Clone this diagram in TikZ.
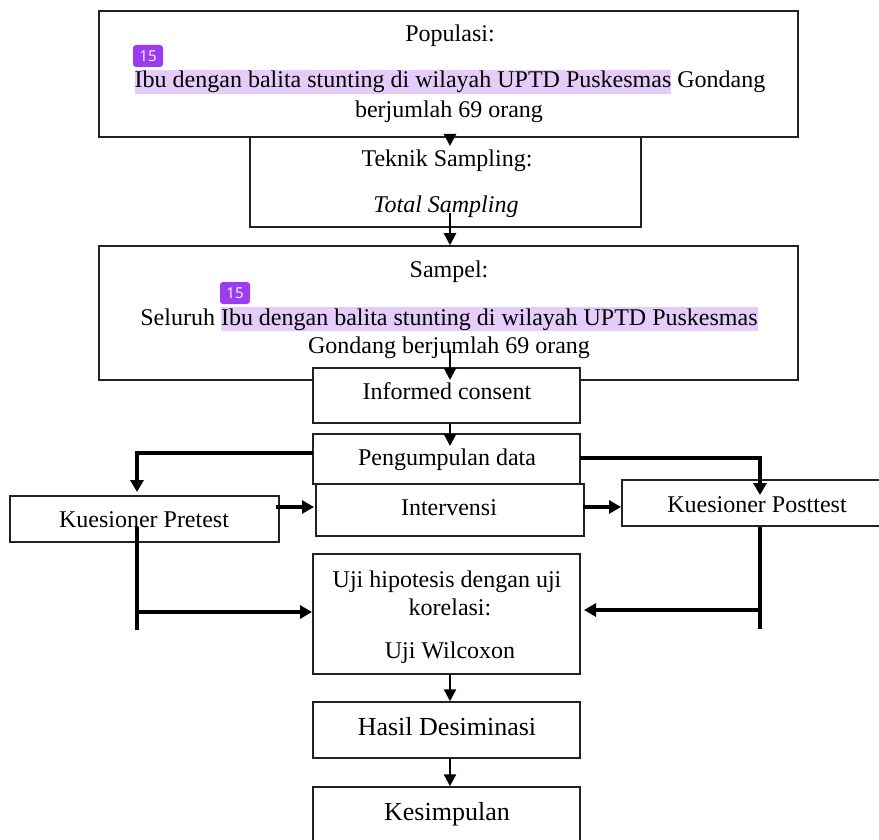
\documentclass[tikz,border=0pt]{standalone}
\usepackage{fontspec}
\setmainfont{Liberation Serif}
\newfontfamily\badgefont{Open Sans}
\usetikzlibrary{arrows.meta}
\definecolor{hl}{HTML}{E6CCFA}
\definecolor{badgecol}{HTML}{9B3CF0}
\definecolor{lineclr}{HTML}{222222}
\newcommand\hlt[1]{{\setlength{\fboxsep}{0pt}\colorbox{hl}{\rule[-6pt]{0pt}{24pt}#1}}}
\begin{document}
\begin{tikzpicture}[x=1pt,y=-1pt,
  box/.style={draw=lineclr, line width=1.5pt, inner sep=0pt},
  txt/.style={inner sep=0pt, anchor=base, font=\fontsize{24}{28}\selectfont},
  bigtxt/.style={inner sep=0pt, anchor=base, font=\fontsize{26}{30}\selectfont},
  badge/.style={fill=badgecol, rounded corners=3pt, text=white, minimum width=30pt, minimum height=22pt, inner sep=0pt, font=\badgefont\fontsize{15}{17}\selectfont},
  arr/.style={line width=2.4pt, -{Triangle[length=12pt,width=12pt]}},
  arrT/.style={line width=3.2pt, -{Triangle[length=12pt,width=13pt]}},
  ln/.style={line width=3.2pt}
]
\useasboundingbox (0,0) rectangle (879,840);
\clip (0,0) rectangle (879,840);

% boxes
\node[box, minimum width=391pt, minimum height=90pt] (tek) at (445.5,182) {};
\node[box, fill=white, minimum width=699pt, minimum height=126pt] (pop) at (448.5,74) {};
\node[box, minimum width=699pt, minimum height=134pt] (sam) at (448.5,313) {};
\node[box, fill=white, minimum width=267pt, minimum height=55pt] (inf) at (446.5,395.5) {};
\node[box, minimum width=267pt, minimum height=50pt] (pen) at (446.5,459) {};
\node[box, minimum width=268pt, minimum height=52pt] (int) at (450,510) {};
\node[box, minimum width=269pt, minimum height=46pt] (pre) at (144.5,519) {};
\node[box, minimum width=268pt, minimum height=46pt] (post) at (756,503) {};
\node[box, minimum width=267pt, minimum height=120pt] (uji) at (446.5,614) {};
\node[box, minimum width=267pt, minimum height=56pt] (has) at (446.5,730) {};
\node[box, minimum width=267pt, minimum height=73pt] (kes) at (446.5,823.5) {};

% texts
\node[txt] (popA) at (450,42) {Populasi:};
\node[txt] (popB) at (450,88) {\hlt{Ibu dengan balita stunting di wilayah UPTD Puskesmas} Gondang};
\node[txt] (popC) at (449,118) {berjumlah 69 orang};
\node[badge] (bdg1) at (148,56) {15};
\node[txt] (tekA) at (447,167) {Teknik Sampling:};
\node[txt] (tekB) at (446,213) {\itshape Total Sampling};
\node[txt] (samA) at (449,277) {Sampel:};
\node[txt] (samB) at (449,325) {Seluruh \hlt{Ibu dengan balita stunting di wilayah UPTD Puskesmas}};
\node[txt] (samC) at (449,353) {Gondang berjumlah 69 orang};
\node[badge] (bdg2) at (235,293) {15};
\node[txt] (infT) at (447,399) {Informed consent};
\node[txt] (penT) at (447,465) {Pengumpulan data};
\node[txt] (intT) at (449,515) {Intervensi};
\node[txt] (preT) at (144,527) {Kuesioner Pretest};
\node[txt] (postT) at (757,512) {Kuesioner Posttest};
\node[txt] (ujiA) at (447,587) {Uji hipotesis dengan uji};
\node[txt] (ujiB) at (450,615) {korelasi:};
\node[txt] (ujiC) at (450,658) {Uji Wilcoxon};
\node[bigtxt] (hasT) at (447,735) {Hasil Desiminasi};
\node[bigtxt] (kesT) at (447,820) {Kesimpulan};

% connector coordinates
\coordinate (c1) at (450,146);
\coordinate (c2s) at (450,213);
\coordinate (c3s) at (450,350);
\coordinate (c3e) at (450,380);
\coordinate (c4e) at (450,446);
\coordinate (pl) at (313,453);
\coordinate (plE) at (137,492);
\coordinate (pr) at (580,458);
\coordinate (prE) at (760,495);
\coordinate (preR) at (276,507);
\coordinate (intL) at (314,507);
\coordinate (intR) at (583,507);
\coordinate (postL) at (621,507);
\coordinate (preS) at (137,527);
\coordinate (preB) at (137,630);
\coordinate (preM) at (137,612);
\coordinate (ujiL) at (312,612);
\coordinate (postS) at (760,527);
\coordinate (postB) at (760,629);
\coordinate (postM) at (760,610);
\coordinate (ujiR) at (584,610);
\coordinate (c5) at (450,674);
\coordinate (c6) at (450,758);

% connectors
\draw[arr] (pop.south -| c1) -- (c1);
\draw[arr] (c2s) -- (sam.north -| c2s);
\draw[arr] (c3s) -- (c3e);
\draw[arr] (inf.south -| c4e) -- (c4e);
\draw[arrT] (pl) -| (plE);
\draw[arrT] (pr) -| (prE);
\draw[arrT] (preR) -- (intL);
\draw[arrT] (intR) -- (postL);
\draw[ln] (preS) -- (preB);
\draw[arrT] (preM) -- (ujiL);
\draw[ln] (postS) -- (postB);
\draw[arrT] (postM) -- (ujiR);
\draw[arr] (c5) -- (has.north -| c5);
\draw[arr] (c6) -- (kes.north -| c6);
\end{tikzpicture}
\end{document}
